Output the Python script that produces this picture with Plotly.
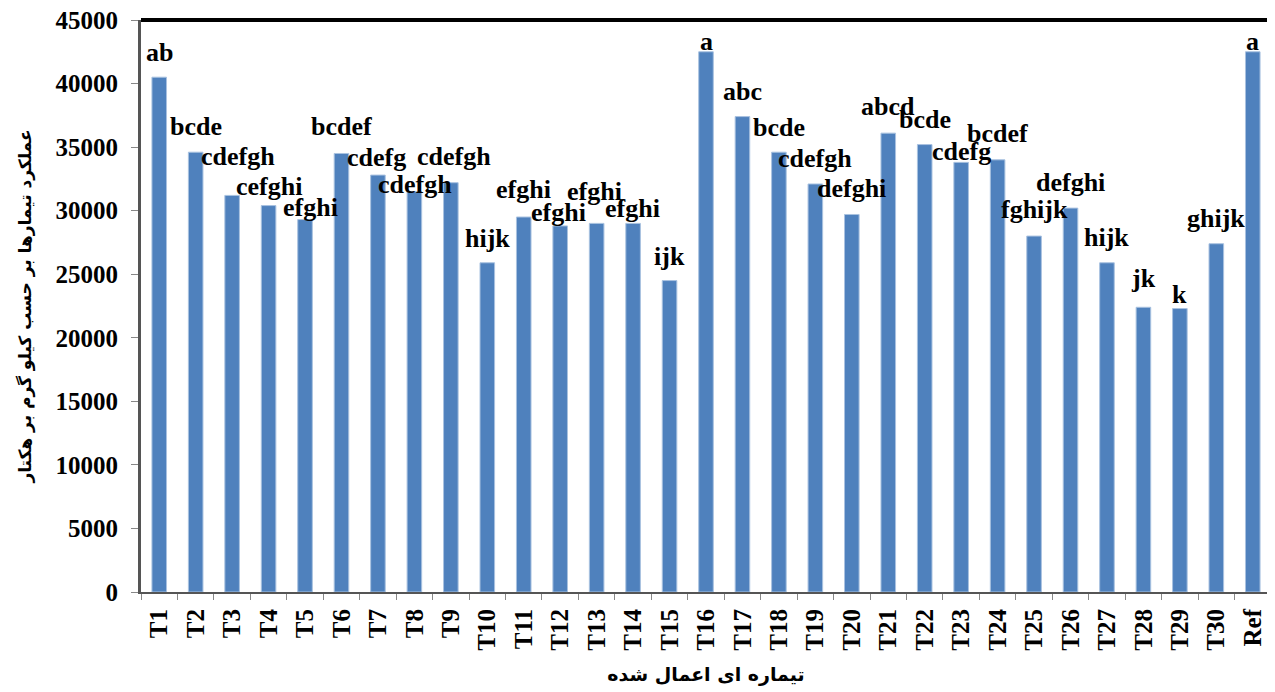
import plotly.graph_objects as go

categories = ["T1", "T2", "T3", "T4", "T5", "T6", "T7", "T8", "T9", "T10",
              "T11", "T12", "T13", "T14", "T15", "T16", "T17", "T18", "T19", "T20",
              "T21", "T22", "T23", "T24", "T25", "T26", "T27", "T28", "T29", "T30", "Ref"]
values = [40500, 34600, 31200, 30400, 29300, 34500, 32800, 31500, 32200, 25900,
          29500, 28800, 29000, 29000, 24500, 42500, 37400, 34600, 32100, 29700,
          36100, 35200, 33800, 34000, 28000, 30200, 25900, 22400, 22300, 27400, 42500]
letters = ["ab", "bcde", "cdefgh", "cefghi", "efghi", "bcdef", "cdefg", "cdefgh", "cdefgh", "hijk",
           "efghi", "efghi", "efghi", "efghi", "ijk", "a", "abc", "bcde", "cdefgh", "defghi",
           "abcd", "bcde", "cdefg", "bcdef", "fghijk", "defghi", "hijk", "jk", "k", "ghijk", "a"]
y_ticks = [0, 5000, 10000, 15000, 20000, 25000, 30000, 35000, 40000, 45000]

# label offsets (pixels) – styling only
label_dy = [25, 26, 39, 19, 12, 27, 18, 7, 26, 24,
            28, 13, 32, 15, 24, 10, 25, 25, 25, 26,
            27, 25, 11, 26, 27, 26, 25, 29, 14, 25, 10]
label_dx = [0, 0, 6, 0, 5, 0, -1, 1, 3, 0,
            0, -2, -2, -1, 0, 0, 0, 0, 0, 0,
            0, 0, 0, 0, 0, 0, 0, 0, 0, 0, 0]

FONT = "Liberation Serif"

fig = go.Figure()
fig.add_trace(go.Bar(
    x=categories, y=values,
    marker=dict(color="#4F81BD", line=dict(color="#A9C2E0", width=1)),
    width=0.4,
))

for c, v, t, dy, dx in zip(categories, values, letters, label_dy, label_dx):
    fig.add_annotation(
        x=c, y=v, text="<b>%s</b>" % t, showarrow=False,
        xref="x", yref="y", yanchor="middle", xanchor="center",
        yshift=dy, xshift=dx,
        font=dict(family=FONT, size=26, color="black"),
    )

# frame top and right
fig.add_shape(type="line", xref="paper", yref="paper", x0=0, x1=1, y0=1, y1=1,
              line=dict(color="black", width=4))
fig.add_shape(type="line", xref="paper", yref="paper", x0=1, x1=1, y0=0, y1=1,
              line=dict(color="black", width=3))

fig.update_layout(
    width=1267, height=684,
    margin=dict(l=133, r=4, t=12, b=100, autoexpand=False),
    plot_bgcolor="white", paper_bgcolor="white",
    showlegend=False,
    font=dict(family=FONT, color="black"),
    xaxis=dict(
        automargin=False,
        tickangle=-90, tickfont=dict(family=FONT, size=25, color="black", weight="bold"),
        ticklabelstandoff=5,
        showline=True, linecolor="#555555", linewidth=2,
        ticks="outside", tickson="boundaries", ticklen=6, tickcolor="#888888",
        showgrid=False,
        title=dict(text="<b>تیماره ای اعمال شده</b>",
                   font=dict(family="DejaVu Sans", size=19, color="black"),
                   standoff=18),
    ),
    yaxis=dict(
        automargin=False,
        range=[0, 45000], tickvals=y_ticks, tickformat="d",
        tickfont=dict(family=FONT, size=25, color="black", weight="bold"),
        ticklabelstandoff=8, ticklabeloverflow="allow",
        showline=True, linecolor="#555555", linewidth=3,
        ticks="outside", ticklen=7, tickcolor="#888888",
        showgrid=False, zeroline=False,
        title=dict(text="<b>عملکرد تیمارها بر حسب کیلو گرم بر هکتار</b>",
                   font=dict(family="DejaVu Sans", size=17, color="black"),
                   standoff=20),
    ),
)

fig.write_html("out.html")
